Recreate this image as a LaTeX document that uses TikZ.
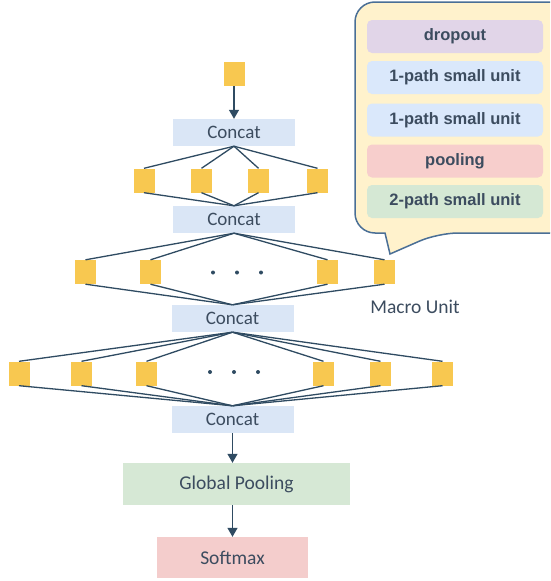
\documentclass[tikz,border=0pt]{standalone}
\usepackage{fontspec}
\setmainfont{Carlito}
\newfontfamily\arialb{Liberation Sans}
\usetikzlibrary{arrows.meta}
\definecolor{txt}{HTML}{3C4C5F}
\definecolor{ln}{HTML}{2F4B62}
\definecolor{sq}{HTML}{F8C850}
\definecolor{cc}{HTML}{DAE6F6}
\definecolor{gp}{HTML}{D6E8D5}
\definecolor{sm}{HTML}{F4CDCC}
\definecolor{cf}{HTML}{FFF2CC}
\definecolor{cb}{HTML}{4A6F96}
\definecolor{dp}{HTML}{E1D5E8}
\definecolor{bl}{HTML}{DAE8FB}
\definecolor{pk}{HTML}{F7CECC}
\definecolor{gr}{HTML}{D5E8D4}
\begin{document}
\begin{tikzpicture}[x=1pt,y=-1pt,
  sqbox/.style={fill=sq, minimum width=21pt, minimum height=24pt, inner sep=0pt},
  concatbox/.style={fill=cc, minimum width=122pt, minimum height=27pt, inner sep=0pt, text=txt, font=\fontsize{19}{21}\selectfont},
  wide/.style={minimum height=42pt, inner sep=0pt, text=txt, font=\fontsize{19.5}{21}\selectfont},
  conn/.style={draw=ln, line width=1.3pt},
  arr/.style={conn, -{Triangle[length=9pt,width=10pt]}},
  tag/.style={rounded corners=5pt, minimum width=176pt, minimum height=33pt, inner sep=0pt, text=txt, font=\arialb\bfseries\fontsize{16.5}{18}\selectfont},
  dot/.style={circle, fill=ln, inner sep=0pt, minimum size=4pt}
]
\useasboundingbox (0,0) rectangle (550,581);
\clip (0,0) rectangle (550,581);
\fill[white] (0,0) rectangle (550,581);

% callout
\path[fill=cf, draw=cb, line width=1.5pt] (385,233) [rounded corners=20pt] -- (355,233) -- (355,2) -- (570,2) -- (570,233) -- (438,233) [sharp corners] -- (390,254) -- cycle;
\node[tag, fill=dp] (t1) at (455,36.5) {dropout};
\node[tag, fill=bl] (t2) at (455,77.5) {1-path small unit};
\node[tag, fill=bl] (t3) at (455,120) {1-path small unit};
\node[tag, fill=pk] (t4) at (455,161) {pooling};
\node[tag, fill=gr] (t5) at (455,201.5) {2-path small unit};

% main column
\node[sqbox] (top) at (234.5,74) {};
\node[concatbox] (c1) at (234,132.5) {Concat};
\node[concatbox] (c2) at (234,219.5) {Concat};
\node[concatbox] (c3) at (232.5,318.5) {Concat};
\node[concatbox] (c4) at (232.5,419.5) {Concat};
\node[wide, fill=gp, minimum width=227pt] (gpool) at (236.5,484) {Global Pooling};
\node[wide, fill=sm, minimum width=151pt, minimum height=41pt] (soft) at (232.5,557.5) {Softmax};
\node[text=txt, font=\fontsize{19.5}{21}\selectfont] (macro) at (415,307) {Macro Unit};

% row 1
\foreach \n/\x in {a/144,b/201.5,c/258.5,d/317.5}{
  \node[sqbox] (r1\n) at (\x,180.5) {};
  \draw[conn] (c1.south) -- (r1\n.north);
  \draw[conn] (r1\n.south) -- (c2.north);
}
% row 2
\foreach \n/\x in {a/85.5,b/150.5,c/327.5,d/384.5}{
  \node[sqbox] (r2\n) at (\x,272) {};
  \draw[conn] (c2.south) -- (r2\n.north);
  \draw[conn] (r2\n.south) -- (c3.north);
}
\foreach \n/\x in {a/213,b/237,c/261}{ \node[dot] (d2\n) at (\x,272.5) {}; }
% row 3
\foreach \n/\x in {a/19,b/81.5,c/146.5,d/323.5,e/380.5,f/442.5}{
  \node[sqbox] (r3\n) at (\x,373.5) {};
  \draw[conn] (c3.south) -- (r3\n.north);
  \draw[conn] (r3\n.south) -- (c4.north);
}
\foreach \n/\x in {a/210,b/234,c/258}{ \node[dot] (d3\n) at (\x,372) {}; }

% arrows
\draw[arr] (c1.north |- top.south) -- (c1.north);
\draw[arr] (c4.south) -- (c4.south |- gpool.north);
\draw[arr] (c4.south |- gpool.south) -- (c4.south |- soft.north);
\end{tikzpicture}
\end{document}
